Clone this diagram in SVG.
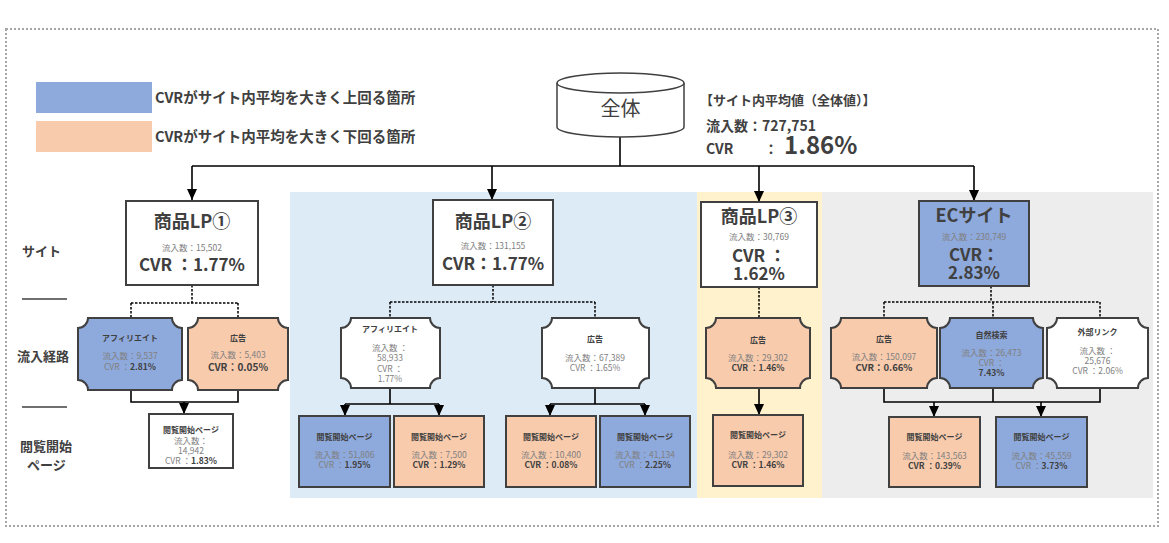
<svg xmlns="http://www.w3.org/2000/svg" width="1169" height="543" viewBox="0 0 1169 543">
<style>
text{font-family:"Noto Sans CJK JP","Noto Sans",sans-serif;}
.box{stroke:#404040;stroke-width:2;}
.blue{fill:#8EA9DB;}
.orange{fill:#F8CBAD;}
.white{fill:#ffffff;}
.title{font-size:18px;font-weight:700;fill:#404040;text-anchor:middle;}
.big{font-size:17px;font-weight:700;fill:#404040;text-anchor:middle;}
.sm{font-size:8.5px;fill:#808080;text-anchor:middle;}
.lbl{font-size:8px;font-weight:700;fill:#404040;text-anchor:middle;}
.b{font-weight:700;fill:#404040;}
.side{font-size:13px;font-weight:700;fill:#404040;}
.leg{font-size:14.5px;font-weight:700;fill:#404040;}
.conn{stroke:#000;stroke-width:1.6;fill:none;}
.dash{stroke:#000;stroke-width:1.5;fill:none;stroke-dasharray:2.5 1.5;}
</style>
<defs>
<marker id="ah" markerUnits="userSpaceOnUse" markerWidth="11" markerHeight="10" viewBox="0 0 11 10" refX="11" refY="5" orient="auto">
<path d="M0 0 L11 5 L0 10 Z" fill="#000"/>
</marker>
</defs>

<rect x="6" y="29" width="1152" height="497" fill="none" stroke="#a6a6a6" stroke-width="2" stroke-dasharray="2 2"/>

<g id="panels">
<rect x="290" y="192" width="407" height="306" fill="#DDEBF7"/>
<rect x="697" y="192" width="125" height="306" fill="#FFF2CC"/>
<rect x="822" y="192" width="331" height="306" fill="#EDEDED"/>
</g>

<g id="legend">
<rect x="36" y="82" width="116" height="31" class="blue"/>
<rect x="36" y="121" width="116" height="31" class="orange"/>
<text x="155" y="103" class="leg">CVRがサイト内平均を大きく上回る箇所</text>
<text x="155" y="142" class="leg">CVRがサイト内平均を大きく下回る箇所</text>
</g>

<g id="side-labels">
<text x="22" y="256" class="side">サイト</text>
<line x1="22" y1="299" x2="67" y2="299" stroke="#404040" stroke-width="1.5"/>
<text x="17" y="361" class="side">流入経路</text>
<line x1="22" y1="407" x2="67" y2="407" stroke="#404040" stroke-width="1.5"/>
<text x="20" y="451" class="side">閲覧開始</text>
<text x="27" y="470" class="side">ページ</text>
</g>

<g id="summary">
<text x="700" y="105" style="font-size:13px" class="b">【サイト内平均値（全体値）】</text>
<text x="706" y="131" style="font-size:14px" class="b">流入数：727,751</text>
<text x="706" y="154" style="font-size:14px" class="b">CVR</text>
<text x="764" y="154" style="font-size:14px" class="b">：</text>
<text x="784" y="154" style="font-size:24px" class="b">1.86%</text>
</g>

<g id="connectors">
<path class="conn" d="M620 137 V166 M192 166 H974"/>
<path class="conn" d="M192 166 V200" marker-end="url(#ah)"/>
<path class="conn" d="M492 166 V200" marker-end="url(#ah)"/>
<path class="conn" d="M759 166 V202" marker-end="url(#ah)"/>
<path class="conn" d="M974 166 V201" marker-end="url(#ah)"/>
<path class="dash" d="M192 285 V303 M131 303 H238 M131 303 V318 M238 303 V318"/>
<path class="conn" d="M131 390 V402 H238 V390"/>
<path class="conn" d="M184 402 V414" marker-end="url(#ah)"/>
<path class="dash" d="M493 285 V302 M390 302 H595 M390 302 V318 M595 302 V318"/>
<path class="conn" d="M390 388 V404 M345 404 H439 M595 388 V404 M550 404 H645"/>
<path class="conn" d="M345 404 V416" marker-end="url(#ah)"/>
<path class="conn" d="M439 404 V416" marker-end="url(#ah)"/>
<path class="conn" d="M550 404 V416" marker-end="url(#ah)"/>
<path class="conn" d="M645 404 V416" marker-end="url(#ah)"/>
<path class="dash" d="M759 287 V318"/>
<path class="conn" d="M759 388 V415" marker-end="url(#ah)"/>
<path class="dash" d="M991 286 V302 M884 302 H1100 M884 302 V318 M993 302 V318 M1100 302 V318"/>
<path class="conn" d="M884 388 V402 H1100 V388 M993 388 V402"/>
<path class="conn" d="M934 402 V417" marker-end="url(#ah)"/>
<path class="conn" d="M1041 402 V417" marker-end="url(#ah)"/>
</g>

<g id="node-total">
<path d="M557 83 V127 A63.5 10 0 0 0 684 127 V83" fill="#fff" stroke="#404040" stroke-width="1.5"/>
<ellipse cx="620.5" cy="83" rx="63.5" ry="10" fill="#fff" stroke="#404040" stroke-width="1.5"/>
<text x="620.5" y="116" style="font-size:20px;fill:#404040;text-anchor:middle">全体</text>
</g>

<g id="lp1">
<rect x="126" y="201" width="132" height="84" class="box white"/>
<text x="192" y="228" class="title">商品LP①</text>
<text x="192" y="251" class="sm">流入数：15,502</text>
<text x="192" y="271" class="big">CVR ：1.77%</text>
</g>
<g id="lp1-aff">
<path class="box blue" d="M88 318 H172 A10 10 0 0 0 182 328 V380 A10 10 0 0 0 172 390 H88 A10 10 0 0 0 78 380 V328 A10 10 0 0 0 88 318 Z"/>
<text x="130" y="341" class="lbl">アフィリエイト</text>
<text x="130" y="359" class="sm">流入数：9,537</text>
<text x="130" y="370" class="sm">CVR ：<tspan class="b">2.81%</tspan></text>
</g>
<g id="lp1-ad">
<path class="box orange" d="M198 318 H278 A10 10 0 0 0 288 328 V380 A10 10 0 0 0 278 390 H198 A10 10 0 0 0 188 380 V328 A10 10 0 0 0 198 318 Z"/>
<text x="238" y="341" class="lbl">広告</text>
<text x="238" y="358" class="sm">流入数：5,403</text>
<text x="238" y="371" class="sm b" style="font-size:10px">CVR：0.05%</text>
</g>
<g id="lp1-page">
<rect x="149" y="414" width="84" height="54" class="box white"/>
<text x="191" y="433" class="lbl">閲覧開始ページ</text>
<text x="191" y="444" class="sm">流入数：</text>
<text x="191" y="454" class="sm">14,942</text>
<text x="191" y="464" class="sm">CVR ：<tspan class="b">1.83%</tspan></text>
</g>

<g id="lp2">
<rect x="433" y="200" width="120" height="85" class="box white"/>
<text x="493" y="228" class="title">商品LP②</text>
<text x="493" y="249" class="sm">流入数：131,155</text>
<text x="493" y="270" class="big">CVR：1.77%</text>
</g>
<g id="lp2-aff">
<path class="box white" d="M351 318 H430 A10 10 0 0 0 440 328 V378 A10 10 0 0 0 430 388 H351 A10 10 0 0 0 341 378 V328 A10 10 0 0 0 351 318 Z"/>
<text x="390" y="332" class="lbl">アフィリエイト</text>
<text x="390" y="351" class="sm">流入数 ：</text>
<text x="390" y="361" class="sm">58,933</text>
<text x="390" y="372" class="sm">CVR    ：</text>
<text x="390" y="382" class="sm">1.77%</text>
</g>
<g id="lp2-ad">
<path class="box white" d="M552 318 H639 A10 10 0 0 0 649 328 V378 A10 10 0 0 0 639 388 H552 A10 10 0 0 0 542 378 V328 A10 10 0 0 0 552 318 Z"/>
<text x="595" y="342" class="lbl">広告</text>
<text x="595" y="361" class="sm">流入数：67,389</text>
<text x="595" y="371" class="sm">CVR ：1.65%</text>
</g>
<g id="lp2-page1">
<rect x="299" y="416" width="91" height="71" class="box blue"/>
<text x="344.5" y="440" class="lbl">閲覧開始ページ</text>
<text x="344.5" y="458" class="sm">流入数：51,806</text>
<text x="344.5" y="468" class="sm">CVR ：<tspan class="b">1.95%</tspan></text>
</g>
<g id="lp2-page2">
<rect x="394" y="416" width="90" height="71" class="box orange"/>
<text x="439" y="440" class="lbl">閲覧開始ページ</text>
<text x="439" y="458" class="sm">流入数：7,500</text>
<text x="439" y="468" class="sm b">CVR ：1.29%</text>
</g>
<g id="lp2-page3">
<rect x="506" y="416" width="90" height="71" class="box orange"/>
<text x="551" y="440" class="lbl">閲覧開始ページ</text>
<text x="551" y="458" class="sm">流入数：10,400</text>
<text x="551" y="468" class="sm b">CVR ：0.08%</text>
</g>
<g id="lp2-page4">
<rect x="600" y="416" width="90" height="71" class="box blue"/>
<text x="645" y="440" class="lbl">閲覧開始ページ</text>
<text x="645" y="458" class="sm">流入数：41,134</text>
<text x="645" y="468" class="sm">CVR ：<tspan class="b">2.25%</tspan></text>
</g>

<g id="lp3">
<rect x="701" y="202" width="116" height="85" class="box white"/>
<text x="759" y="223" class="title">商品LP③</text>
<text x="759" y="240" class="sm">流入数：30,769</text>
<text x="759" y="262" class="big">CVR ：</text>
<text x="759" y="280" class="big">1.62%</text>
</g>
<g id="lp3-ad">
<path class="box orange" d="M716 318 H800 A10 10 0 0 0 810 328 V378 A10 10 0 0 0 800 388 H716 A10 10 0 0 0 706 378 V328 A10 10 0 0 0 716 318 Z"/>
<text x="758" y="343" class="lbl">広告</text>
<text x="758" y="361" class="sm">流入数：29,302</text>
<text x="758" y="371" class="sm b">CVR ：1.46%</text>
</g>
<g id="lp3-page">
<rect x="713" y="415" width="90" height="71" class="box orange"/>
<text x="758" y="438" class="lbl">閲覧開始ページ</text>
<text x="758" y="458" class="sm">流入数：29,302</text>
<text x="758" y="468" class="sm b">CVR ：1.46%</text>
</g>

<g id="ec">
<rect x="919" y="201" width="110" height="85" class="box blue"/>
<text x="974" y="222" class="title">ECサイト</text>
<text x="974" y="240" class="sm">流入数：230,749</text>
<text x="974" y="261" class="big">CVR：</text>
<text x="974" y="279" class="big">2.83%</text>
</g>
<g id="ec-ad">
<path class="box orange" d="M841 318 H927 A10 10 0 0 0 937 328 V378 A10 10 0 0 0 927 388 H841 A10 10 0 0 0 831 378 V328 A10 10 0 0 0 841 318 Z"/>
<text x="884" y="342" class="lbl">広告</text>
<text x="884" y="360" class="sm">流入数：150,097</text>
<text x="884" y="371" class="sm b" style="font-size:9.5px">CVR：0.66%</text>
</g>
<g id="ec-search">
<path class="box blue" d="M950 318 H1033 A10 10 0 0 0 1043 328 V378 A10 10 0 0 0 1033 388 H950 A10 10 0 0 0 940 378 V328 A10 10 0 0 0 950 318 Z"/>
<text x="991.5" y="338" class="lbl">自然検索</text>
<text x="991.5" y="356" class="sm">流入数：26,473</text>
<text x="991.5" y="366" class="sm">CVR ：</text>
<text x="991.5" y="376" class="sm b">7.43%</text>
</g>
<g id="ec-link">
<path class="box white" d="M1057 318 H1138 A10 10 0 0 0 1148 328 V378 A10 10 0 0 0 1138 388 H1057 A10 10 0 0 0 1047 378 V328 A10 10 0 0 0 1057 318 Z"/>
<text x="1097.5" y="335" class="lbl">外部リンク</text>
<text x="1097.5" y="354" class="sm">流入数 ：</text>
<text x="1097.5" y="364" class="sm">25,676</text>
<text x="1097.5" y="374" class="sm">CVR ：2.06%</text>
</g>
<g id="ec-page1">
<rect x="889" y="417" width="91" height="70" class="box orange"/>
<text x="934.5" y="440" class="lbl">閲覧開始ページ</text>
<text x="934.5" y="459" class="sm">流入数：143,563</text>
<text x="934.5" y="469" class="sm b">CVR ：0.39%</text>
</g>
<g id="ec-page2">
<rect x="996" y="417" width="91" height="70" class="box blue"/>
<text x="1041.5" y="440" class="lbl">閲覧開始ページ</text>
<text x="1041.5" y="459" class="sm">流入数：45,559</text>
<text x="1041.5" y="469" class="sm">CVR ：<tspan class="b">3.73%</tspan></text>
</g>
</svg>
